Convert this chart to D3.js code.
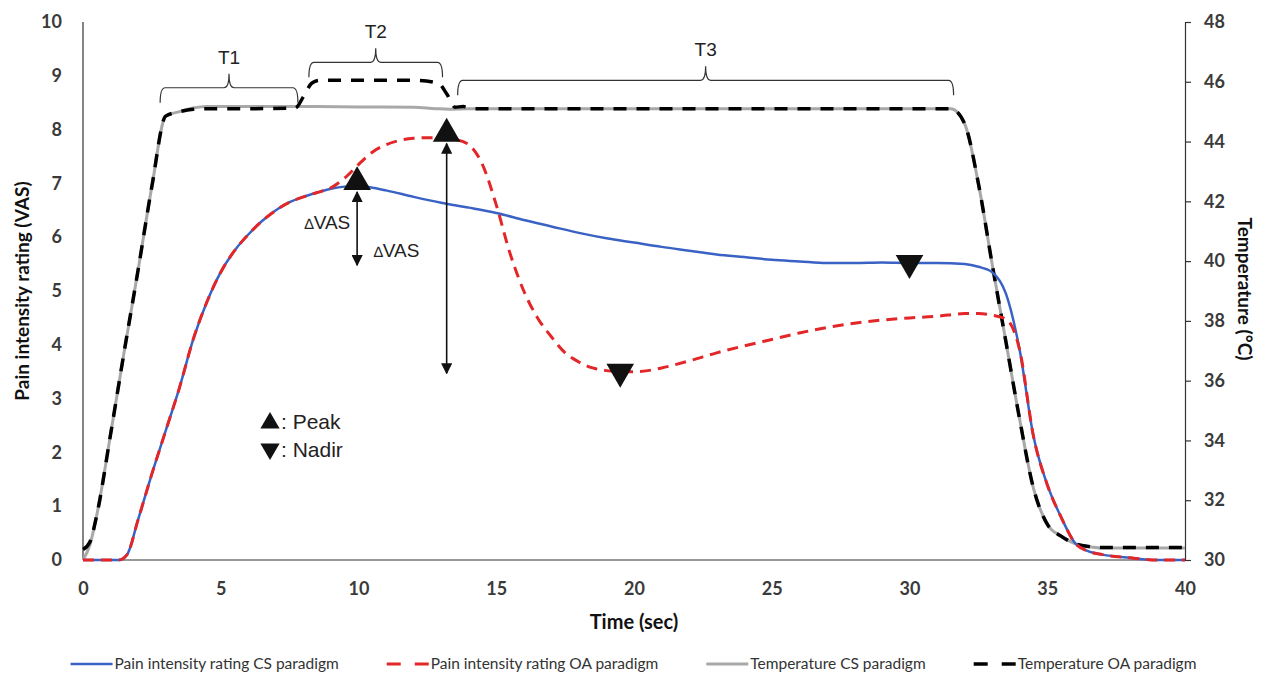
<!DOCTYPE html>
<html>
<head>
<meta charset="utf-8">
<script src="https://cdn.jsdelivr.net/npm/d3@7"></script>
<style>
  body { margin: 0; background: #fff; }
  svg { display: block; }
</style>
</head>
<body>
<div id="chart"></div>
<script>
// temperature, CS paradigm (grey)
const tempCsTime = [0, 0.25, 0.5, 1, 1.5, 2, 2.5, 3, 3.5, 4, 4.5, 6, 8, 10, 12, 12.8, 13.3, 14, 20, 26, 31.5, 32, 32.5, 33, 33.5, 34, 34.5, 35, 35.5, 36, 36.5, 37, 40];
const tempCs = [30.0, 30.5, 31.5, 34.2, 37.0, 39.7, 42.5, 44.85, 45.0, 45.12, 45.17, 45.17, 45.17, 45.16, 45.15, 45.1, 45.08, 45.1, 45.1, 45.1, 45.1, 44.6, 42.6, 39.9, 37.3, 34.7, 32.4, 31.2, 30.8, 30.55, 30.45, 30.4, 30.4];

// temperature, OA paradigm (black dashed)
const tempOaTime = [0, 0.25, 0.5, 1, 1.5, 2, 2.5, 3, 3.5, 4, 4.5, 6, 7.7, 8.0, 8.3, 8.6, 10, 12, 12.9, 13.2, 13.5, 13.8, 14.2, 20, 26, 31.5, 32, 32.5, 33, 33.5, 34, 34.5, 35, 35.5, 36, 36.5, 37, 40];
const tempOa = [30.35, 30.6, 31.5, 34.2, 37.0, 39.7, 42.5, 44.85, 45.0, 45.08, 45.1, 45.1, 45.12, 45.5, 45.95, 46.05, 46.05, 46.05, 45.95, 45.6, 45.15, 45.17, 45.1, 45.1, 45.1, 45.1, 44.6, 42.6, 39.9, 37.3, 34.7, 32.4, 31.2, 30.8, 30.55, 30.45, 30.42, 30.42];

// pain intensity rating, CS paradigm (blue)
const painCsTime = [0, 1.3, 1.6, 2, 2.5, 3, 3.5, 4, 4.5, 5, 5.5, 6, 6.5, 7, 7.5, 8, 8.5, 9, 9.5, 10, 10.5, 11, 12, 13, 14, 15, 16, 17, 18, 19, 20, 21, 22, 23, 24, 25, 26, 27, 28, 29, 30, 31, 32, 32.5, 33, 33.5, 34, 34.5, 35, 35.5, 36, 36.5, 37, 38, 39, 40];
const painCs = [0, 0, 0.1, 0.75, 1.6, 2.4, 3.2, 4.1, 4.8, 5.35, 5.75, 6.05, 6.3, 6.5, 6.65, 6.75, 6.83, 6.9, 6.94, 6.95, 6.92, 6.87, 6.75, 6.64, 6.55, 6.45, 6.32, 6.2, 6.08, 5.98, 5.9, 5.82, 5.75, 5.68, 5.63, 5.58, 5.55, 5.52, 5.52, 5.53, 5.52, 5.52, 5.5, 5.45, 5.35, 4.95, 3.9, 2.3, 1.4, 0.8, 0.32, 0.16, 0.1, 0.04, 0, 0];

// pain intensity rating, OA paradigm (red dashed)
const painOaTime = [0, 1.3, 1.6, 2, 2.5, 3, 3.5, 4, 4.5, 5, 5.5, 6, 6.5, 7, 7.5, 8, 8.5, 9, 9.5, 10, 10.5, 11, 11.5, 12, 12.5, 13, 13.5, 14, 14.5, 15, 15.5, 16, 16.5, 17, 17.5, 18, 18.5, 19, 19.5, 20, 20.5, 21, 22, 23, 24, 25, 26, 27, 28, 29, 30, 31, 32, 32.5, 33, 33.5, 34, 34.5, 35, 35.5, 36, 36.5, 37, 38, 39, 40];
const painOa = [0, 0, 0.1, 0.75, 1.6, 2.4, 3.2, 4.1, 4.8, 5.35, 5.75, 6.05, 6.3, 6.5, 6.65, 6.75, 6.83, 6.92, 7.1, 7.35, 7.58, 7.72, 7.8, 7.84, 7.85, 7.85, 7.82, 7.72, 7.35, 6.6, 5.7, 5.0, 4.5, 4.15, 3.85, 3.68, 3.57, 3.52, 3.5, 3.5, 3.52, 3.57, 3.7, 3.85, 3.98, 4.1, 4.22, 4.32, 4.4, 4.46, 4.5, 4.53, 4.58, 4.58, 4.55, 4.48, 3.9, 2.3, 1.4, 0.8, 0.32, 0.16, 0.1, 0.04, 0, 0];

// peaks and nadirs (time, VAS)
const peaks = [{ t: 9.95, v: 6.95 }, { t: 13.2, v: 7.85 }];
const nadirs = [{ t: 19.5, v: 3.5 }, { t: 30.0, v: 5.52 }];
// delta VAS arrows: from peak to nadir level, at peak time
const deltas = [{ t: 9.95, from: 6.84, to: 5.48 }, { t: 13.2, from: 7.74, to: 3.47 }];

// stimulation phases
const phases = [
  { name: "T1", start: 2.8, end: 7.8 },
  { name: "T2", start: 8.2, end: 13.05 },
  { name: "T3", start: 13.6, end: 31.6 },
];

const xTicks = [0, 5, 10, 15, 20, 25, 30, 35, 40];
const vasTicks = [0, 1, 2, 3, 4, 5, 6, 7, 8, 9, 10];
const tempTicks = [30, 32, 34, 36, 38, 40, 42, 44, 46, 48];

const series = [
  { name: "Pain intensity rating CS paradigm", color: "#3a62c4", width: 2.5, dash: null },
  { name: "Pain intensity rating OA paradigm", color: "#e32628", width: 3, dash: "11,7" },
  { name: "Temperature CS paradigm", color: "#a8a8a8", width: 3, dash: null },
  { name: "Temperature OA paradigm", color: "#000", width: 3.5, dash: "13,10" },
];

const width = 1267, height = 677;
const m = { left: 83, right: 1185, top: 22, bottom: 560 };

const svg = d3.select("#chart").append("svg").attr("width", width).attr("height", height);

const x = d3.scaleLinear().domain([0, 40]).range([m.left, m.right]);
const yVas = d3.scaleLinear().domain([0, 10]).range([m.bottom, m.top]);
const yTemp = d3.scaleLinear().domain([30, 48]).range([m.bottom, m.top]);

const tickFont = "Lato, 'Open Sans', sans-serif";
const annFont = "'Liberation Sans', Arial, sans-serif";

// axes
const gx = svg.append("g").attr("transform", `translate(0,${m.bottom})`)
  .call(d3.axisBottom(x).tickValues(xTicks).tickSize(0).tickPadding(22).tickFormat(d3.format("d")));
const gl = svg.append("g").attr("transform", `translate(${m.left},0)`)
  .call(d3.axisLeft(yVas).tickValues(vasTicks).tickSize(0).tickPadding(21));
const gr = svg.append("g").attr("transform", `translate(${m.right},0)`)
  .call(d3.axisRight(yTemp).tickValues(tempTicks).tickSize(6).tickSizeOuter(6).tickPadding(13));

[gx, gl, gr].forEach((g) => {
  g.select(".domain").attr("stroke", "#333").attr("stroke-width", 1.2);
  g.selectAll(".tick line").attr("stroke", "#333").attr("stroke-width", 1.2);
  g.selectAll(".tick text").attr("fill", "#3a3a3a").style("font-family", tickFont)
    .style("font-weight", "bold").style("font-size", "18px");
});
gl.select(".domain").attr("d", `M0,${m.bottom}V${m.top}`);
gx.select(".domain").attr("d", `M${m.left},0H${m.right}`);

// axis titles
svg.append("text").attr("transform", `translate(24,${(m.top + m.bottom) / 2}) rotate(-90)`)
  .attr("text-anchor", "middle").attr("dominant-baseline", "middle")
  .style("font-family", tickFont).style("font-weight", "bold").style("font-size", "19px")
  .attr("fill", "#111").text("Pain intensity rating (VAS)");
svg.append("text").attr("transform", `translate(1243,${(m.top + m.bottom) / 2 - 2}) rotate(90)`)
  .attr("text-anchor", "middle").attr("dominant-baseline", "middle")
  .style("font-family", tickFont).style("font-weight", "bold").style("font-size", "19px")
  .attr("fill", "#111").text("Temperature (°C)");
svg.append("text").attr("x", (m.left + m.right) / 2).attr("y", 629)
  .attr("text-anchor", "middle")
  .style("font-family", tickFont).style("font-weight", "bold").style("font-size", "20px")
  .attr("fill", "#111").text("Time (sec)");

// lines
function drawLine(times, vals, yScale, s) {
  const pts = times.map((t, i) => [t, vals[i]]);
  const line = d3.line().x((d) => x(d[0])).y((d) => yScale(d[1])).curve(d3.curveMonotoneX);
  svg.append("path").datum(pts).attr("d", line).attr("fill", "none")
    .attr("stroke", s.color).attr("stroke-width", s.width)
    .attr("stroke-dasharray", s.dash).attr("stroke-linejoin", "round");
}
drawLine(tempCsTime, tempCs, yTemp, series[2]);
drawLine(tempOaTime, tempOa, yTemp, series[3]);
drawLine(painCsTime, painCs, yVas, series[0]);
drawLine(painOaTime, painOa, yVas, series[1]);

// braces
const braceLevel = { T1: 45.8, T2: 46.65, T3: 46.05 };
phases.forEach((p) => {
  const x0 = x(p.start), x1 = x(p.end), xm = (x0 + x1) / 2;
  const yh = yTemp(braceLevel[p.name]);
  const yb = yh + 15, yt = yh - 14, r = 5;
  const path = `M${x0},${yb} Q${x0},${yh} ${x0 + r},${yh} L${xm - r},${yh} Q${xm},${yh} ${xm},${yt}` +
    ` Q${xm},${yh} ${xm + r},${yh} L${x1 - r},${yh} Q${x1},${yh} ${x1},${yb}`;
  svg.append("path").attr("d", path).attr("fill", "none").attr("stroke", "#333").attr("stroke-width", 1.2);
  svg.append("text").attr("x", xm).attr("y", yt - 10).attr("text-anchor", "middle")
    .style("font-family", annFont).style("font-size", "19px").attr("fill", "#222").text(p.name);
});

// delta arrows
svg.append("defs").append("marker").attr("id", "ah").attr("viewBox", "0 0 10 10")
  .attr("refX", 9).attr("refY", 5).attr("markerWidth", 7).attr("markerHeight", 7)
  .attr("orient", "auto-start-reverse")
  .append("path").attr("d", "M0,0L10,5L0,10z").attr("fill", "#111");
deltas.forEach((d) => {
  svg.append("line").attr("x1", x(d.t)).attr("x2", x(d.t)).attr("y1", yVas(d.from)).attr("y2", yVas(d.to))
    .attr("stroke", "#111").attr("stroke-width", 1.6)
    .attr("marker-start", "url(#ah)").attr("marker-end", "url(#ah)");
});
const deltaLabels = [{ t: 9.7, v: 6.15, anchor: "end" }, { t: 10.55, v: 5.63, anchor: "start" }];
deltaLabels.forEach((d) => {
  const t = svg.append("text").attr("x", x(d.t)).attr("y", yVas(d.v)).attr("text-anchor", d.anchor)
    .style("font-family", annFont).style("font-size", "19px").attr("fill", "#222");
  t.append("tspan").style("font-size", "15px").text("∆");
  t.append("tspan").text("VAS");
});

// markers
const tri = d3.symbol().type(d3.symbolTriangle).size(330);
peaks.forEach((p) => {
  svg.append("path").attr("d", tri).attr("fill", "#111")
    .attr("transform", `translate(${x(p.t)},${yVas(p.v) - 4})`);
});
nadirs.forEach((p) => {
  svg.append("path").attr("d", tri).attr("fill", "#111")
    .attr("transform", `translate(${x(p.t)},${yVas(p.v)}) rotate(180)`);
});

// peak / nadir key
const keyItems = [{ sym: "up", label: ": Peak" }, { sym: "down", label: ": Nadir" }];
keyItems.forEach((k, i) => {
  const cy = 429 + i * 28;
  const s = d3.symbol().type(d3.symbolTriangle).size(160);
  svg.append("path").attr("d", s).attr("fill", "#111")
    .attr("transform", `translate(270,${cy - 7 + (k.sym === "down" ? -1 : 1)}) rotate(${k.sym === "down" ? 180 : 0})`);
  svg.append("text").attr("x", 281).attr("y", cy)
    .style("font-family", annFont).style("font-size", "21px").attr("fill", "#222").text(k.label);
});

// legend
const lg = svg.append("g");
const sampleW = 42, gap = 48;
let cx = 0;
series.forEach((s) => {
  const g = lg.append("g").attr("transform", `translate(${cx},0)`);
  g.append("line").attr("x1", 0).attr("x2", sampleW).attr("y1", 0).attr("y2", 0)
    .attr("stroke", s.color).attr("stroke-width", s.width)
    .attr("stroke-dasharray", s.dash ? "14,14" : null);
  const t = g.append("text").attr("x", sampleW + 2).attr("y", 5)
    .style("font-family", tickFont).style("font-size", "15.5px").attr("fill", "#333").text(s.name);
  cx += sampleW + 2 + t.node().getComputedTextLength() + gap;
});
cx -= gap;
lg.attr("transform", `translate(${(width - cx) / 2 + 0},664)`);
</script>
</body>
</html>
